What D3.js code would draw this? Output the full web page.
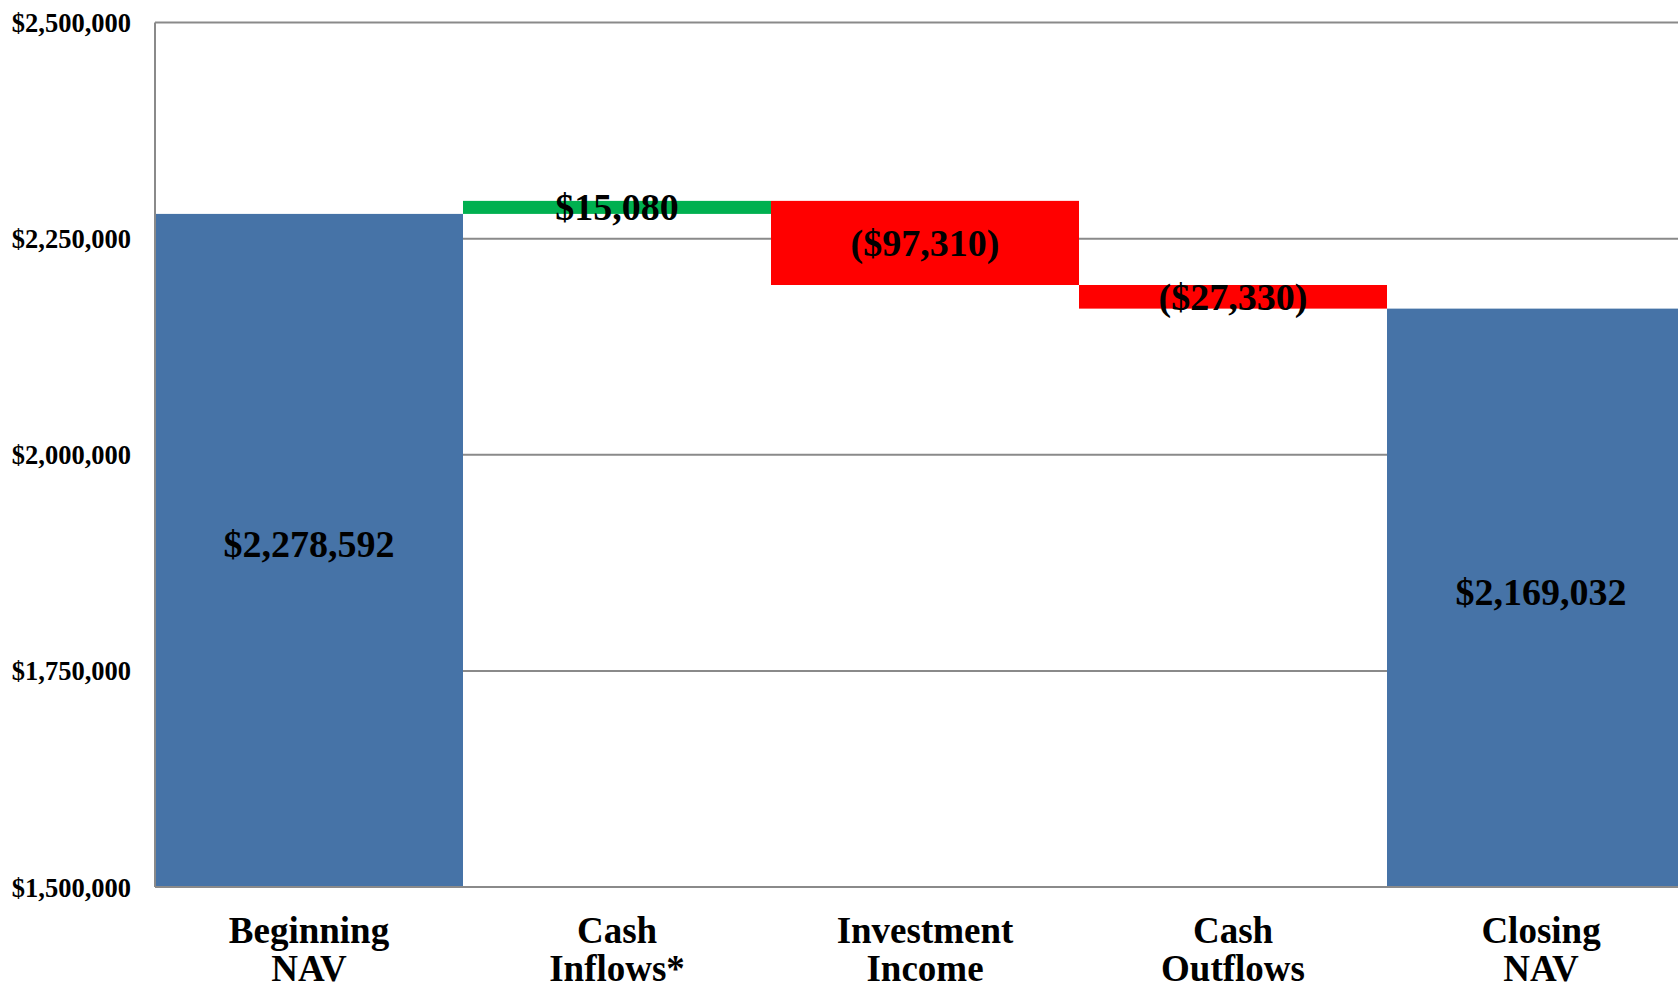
<!DOCTYPE html>
<html>
<head>
<meta charset="utf-8">
<script src="https://cdn.jsdelivr.net/npm/d3@7"></script>
<style>
  html, body { margin: 0; padding: 0; background: #fff; overflow: hidden; }
  svg { display: block; }
  text { font-family: "Liberation Serif", "Times New Roman", Times, serif; font-weight: bold; fill: #000; }
</style>
</head>
<body>
<svg id="chart" width="1678" height="990"></svg>
<script>
// NAV bridge: opening value, flows, closing value
const categories = [["Beginning", "NAV"], ["Cash", "Inflows*"], ["Investment", "Income"], ["Cash", "Outflows"], ["Closing", "NAV"]];
const changes = [2278592, 15080, -97310, -27330, 2169032];
const kinds = ["total", "delta", "delta", "delta", "total"];
const labels = ["$2,278,592", "$15,080", "($97,310)", "($27,330)", "$2,169,032"];
const yTicks = [1500000, 1750000, 2000000, 2250000, 2500000];

const svg = d3.select("#chart");
const margin = { left: 155, top: 22.5, bottom: 887, right: 1695 };

const x = d3.scaleBand()
  .domain(d3.range(categories.length))
  .range([margin.left, margin.right])
  .paddingInner(0).paddingOuter(0);

const y = d3.scaleLinear()
  .domain([1500000, 2500000])
  .range([margin.bottom, margin.top]);

// running totals for the floating segments
let running = 0;
const bars = changes.map((v, i) => {
  let lo, hi;
  if (kinds[i] === "total") {
    lo = y.domain()[0]; hi = v; running = v;
  } else {
    const start = running; running += v;
    lo = Math.min(start, running); hi = Math.max(start, running);
  }
  const color = kinds[i] === "total" ? "#4673A7" : (v >= 0 ? "#00B050" : "#FF0000");
  return { i, lo, hi, color, label: labels[i] };
});

// gridlines
svg.append("g")
  .selectAll("line")
  .data(yTicks.slice(1))
  .join("line")
  .attr("x1", margin.left).attr("x2", margin.right)
  .attr("y1", d => y(d)).attr("y2", d => y(d))
  .attr("stroke", "#8a8a8a").attr("stroke-width", 2);

// bars
svg.append("g")
  .selectAll("rect")
  .data(bars)
  .join("rect")
  .attr("x", d => x(d.i))
  .attr("width", x.bandwidth())
  .attr("y", d => y(d.hi))
  .attr("height", d => y(d.lo) - y(d.hi))
  .attr("fill", d => d.color);

// axis lines
svg.append("line")
  .attr("x1", margin.left).attr("x2", margin.left)
  .attr("y1", margin.top).attr("y2", margin.bottom)
  .attr("stroke", "#8a8a8a").attr("stroke-width", 2);
svg.append("line")
  .attr("x1", margin.left).attr("x2", margin.right)
  .attr("y1", margin.bottom).attr("y2", margin.bottom)
  .attr("stroke", "#8a8a8a").attr("stroke-width", 2);

// y axis labels
const yAxis = d3.axisLeft(y)
  .tickValues(yTicks)
  .tickSize(0)
  .tickPadding(24)
  .tickFormat(d => "$" + d3.format(",")(d));
const gy = svg.append("g")
  .attr("transform", `translate(${margin.left},0)`)
  .call(yAxis);
gy.select(".domain").remove();
gy.selectAll("text")
  .attr("font-family", null)
  .style("font-size", "26.5px")
  .attr("dy", "0.34em");

// value labels
svg.append("g")
  .selectAll("text")
  .data(bars)
  .join("text")
  .attr("x", d => x(d.i) + x.bandwidth() / 2)
  .attr("y", d => (y(d.lo) + y(d.hi)) / 2)
  .attr("dy", d => kinds[d.i] === "total" ? "0.18em" : "0.34em")
  .attr("text-anchor", "middle")
  .style("font-size", "38px")
  .text(d => d.label);

// category labels
const cat = svg.append("g")
  .selectAll("text")
  .data(categories)
  .join("text")
  .attr("text-anchor", "middle")
  .attr("transform", (d, i) => `translate(${x(i) + x.bandwidth() / 2},943)`)
  .style("font-size", "37px");
cat.selectAll("tspan")
  .data(d => d)
  .join("tspan")
  .attr("x", 0)
  .attr("y", (d, j) => j * 38)
  .text(d => d);
</script>
</body>
</html>
